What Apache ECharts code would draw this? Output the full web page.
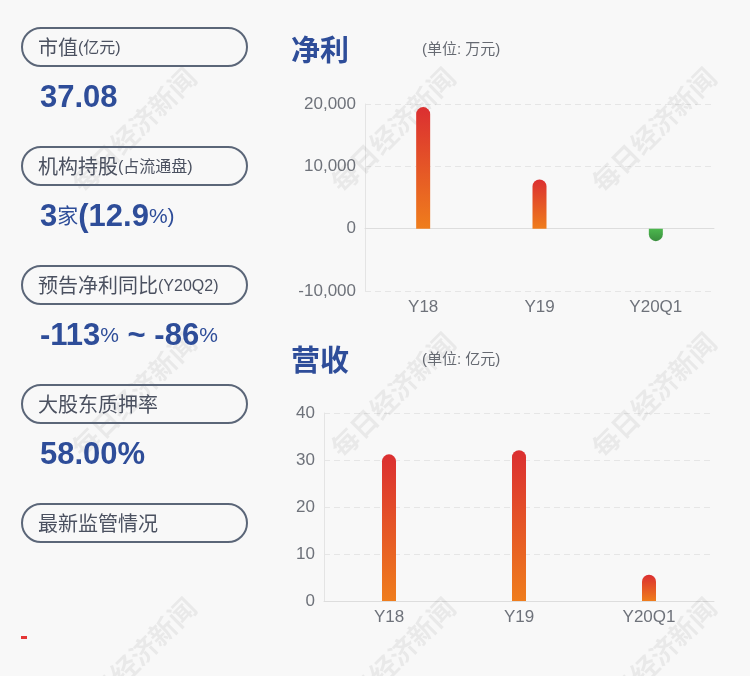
<!DOCTYPE html>
<html>
<head>
<meta charset="utf-8">
<script src="https://cdn.jsdelivr.net/npm/echarts@6/dist/echarts.min.js"></script>
<style>
html,body{margin:0;padding:0;background:#f8f8f8;}
#main{width:750px;height:676px;}
</style>
</head>
<body>
<div id="main"></div>
<script>
// ---- data ----
var categories = ['Y18', 'Y19', 'Y20Q1'];
var profitValues = [19500, 7900, -2000];     // 净利 (万元)
var revenueValues = [31.2, 32.1, 5.6];        // 营收 (亿元)
var profitTicks = [-10000, 0, 10000, 20000];
var revenueTicks = [0, 10, 20, 30, 40];
var panelLabels = [
  ['市值', '(亿元)'],
  ['机构持股', '(占流通盘)'],
  ['预告净利同比', '(Y20Q2)'],
  ['大股东质押率', ''],
  ['最新监管情况', '']
];

var FONT = '"Liberation Sans", "Noto Sans CJK SC", sans-serif';
var BLUE = '#2e4d99';

var chart = echarts.init(document.getElementById('main'), null, {renderer: 'canvas'});

function redGrad() {
  return new echarts.graphic.LinearGradient(0, 0, 0, 1, [
    {offset: 0, color: '#db2f31'},
    {offset: 1, color: '#ef7d1c'}
  ]);
}
function greenGrad() {
  return new echarts.graphic.LinearGradient(0, 0, 0, 1, [
    {offset: 0, color: '#4cb84e'},
    {offset: 1, color: '#3a8e3e'}
  ]);
}

var profitData = profitValues.map(function (v) {
  return {
    value: v,
    itemStyle: {
      color: v >= 0 ? redGrad() : greenGrad(),
      borderRadius: v >= 0 ? [7, 7, 0, 0] : [0, 0, 7, 7]
    }
  };
});
var revenueData = revenueValues.map(function (v) {
  return {value: v, itemStyle: {color: redGrad(), borderRadius: [7, 7, 0, 0]}};
});

// graphic elements: left panel, titles, watermarks
var graphics = [];
var boxTops = [27, 146, 265, 384, 503];
panelLabels.forEach(function (lab, i) {
  var y = boxTops[i];
  graphics.push({
    type: 'rect', left: 21, top: y, z: 10,
    shape: {width: 225, height: 38, r: 19},
    style: {fill: 'transparent', stroke: '#5b6678', lineWidth: 2}
  });
  graphics.push({
    type: 'text', x: 38, y: y + 22, z: 11,
    style: {
      text: '{a|' + lab[0] + '}' + (lab[1] ? '{b|' + lab[1] + '}' : ''),
      verticalAlign: 'middle',
      rich: {
        a: {fontSize: 20, fontFamily: FONT, fill: '#4b5160'},
        b: {fontSize: 16, fontFamily: FONT, fill: '#4b5160'}
      }
    }
  });
});
var bigRich = {
  n: {fontSize: 31, fontWeight: 'bold', fontFamily: FONT, fill: BLUE},
  s: {fontSize: 21, fontFamily: FONT, fill: BLUE}
};
var valueTexts = [
  [98, '{n|37.08}'],
  [217, '{n|3}{s|家}{n|(12.9}{s|%)}'],
  [336, '{n|-113}{s|%}{n| ~ -86}{s|%}'],
  [455, '{n|58.00%}']
];
valueTexts.forEach(function (vt) {
  graphics.push({
    type: 'text', x: 40, y: vt[0], z: 11,
    style: {text: vt[1], verticalAlign: 'middle', rich: bigRich}
  });
});
graphics.push({
  type: 'rect', left: 21, top: 636, z: 11,
  shape: {width: 6, height: 3},
  style: {fill: '#e53535'}
});
// titles
[[50, '净利', '(单位: 万元)'], [360, '营收', '(单位: 亿元)']].forEach(function (t) {
  graphics.push({
    type: 'text', x: 291, y: t[0], z: 11,
    style: {text: t[1], verticalAlign: 'middle', fontSize: 29, fontWeight: 'bold',
      fontFamily: '"Noto Sans CJK SC", sans-serif', fill: BLUE}
  });
  graphics.push({
    type: 'text', x: 422, y: t[0], z: 11,
    style: {text: t[2], verticalAlign: 'middle', fontSize: 15,
      fontFamily: FONT, fill: '#666a72'}
  });
});
// watermarks
[134, 393, 654].forEach(function (cx) {
  [130, 395, 660].forEach(function (cy) {
    graphics.push({
      type: 'text', x: cx, y: cy, rotation: Math.PI / 4, z: 1,
      style: {text: '每日经济新闻', align: 'center', verticalAlign: 'middle',
        fontSize: 27, fontWeight: 'bold', fontFamily: '"Noto Sans CJK SC", sans-serif',
        fill: 'rgba(0,0,0,0.06)'}
    });
  });
});

var axisLabelStyle = {color: '#6e727a', fontSize: 17, fontFamily: FONT};

var option = {
  backgroundColor: '#f8f8f8',
  animation: false,
  grid: [
    {left: 365, right: 36, top: 104, bottom: 385},
    {left: 324, right: 36, top: 413, bottom: 75}
  ],
  xAxis: [
    {type: 'category', gridIndex: 0, data: categories,
      axisLine: {onZero: true, lineStyle: {color: '#dddddd'}},
      axisTick: {show: false},
      axisLabel: Object.assign({margin: 8}, axisLabelStyle),
      position: 'bottom'},
    {type: 'category', gridIndex: 1, data: categories,
      axisLine: {lineStyle: {color: '#dddddd'}},
      axisTick: {show: false},
      axisLabel: Object.assign({margin: 8}, axisLabelStyle)}
  ],
  yAxis: [
    {type: 'value', gridIndex: 0, min: profitTicks[0], max: profitTicks[profitTicks.length - 1], interval: 10000,
      axisLine: {show: true, lineStyle: {color: '#e4e4e4'}},
      axisTick: {show: false},
      splitLine: {lineStyle: {color: '#e6e6e6', type: [6, 4]}},
      axisLabel: Object.assign({margin: 9, formatter: function (v) { return v.toLocaleString('en-US'); }}, axisLabelStyle)},
    {type: 'value', gridIndex: 1, min: revenueTicks[0], max: revenueTicks[revenueTicks.length - 1], interval: 10,
      axisLine: {show: true, lineStyle: {color: '#e4e4e4'}},
      axisTick: {show: false},
      splitLine: {lineStyle: {color: '#e6e6e6', type: [6, 4]}},
      axisLabel: Object.assign({margin: 9}, axisLabelStyle)}
  ],
  series: [
    {type: 'bar', xAxisIndex: 0, yAxisIndex: 0, barWidth: 14, data: profitData, z: 5},
    {type: 'bar', xAxisIndex: 1, yAxisIndex: 1, barWidth: 14, data: revenueData, z: 5}
  ],
  graphic: graphics
};
chart.setOption(option);
</script>
</body>
</html>
